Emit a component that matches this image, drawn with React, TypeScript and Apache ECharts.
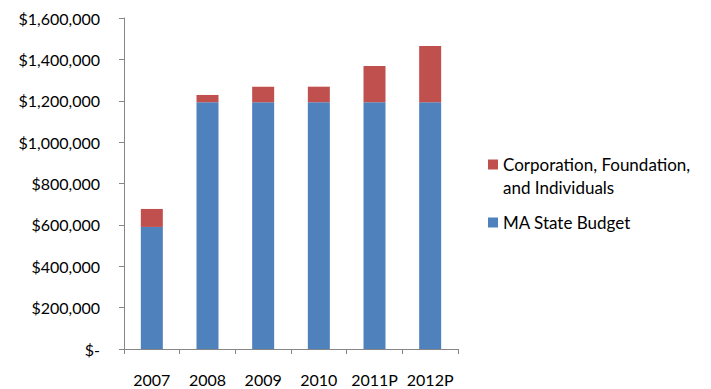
import React, { useEffect, useRef } from "react";
import * as echarts from "echarts";

const categories = ["2007", "2008", "2009", "2010", "2011P", "2012P"];
const stateBudget = [590000, 1193000, 1193000, 1193000, 1193000, 1193000];
const corporate = [87000, 35000, 75000, 75000, 175000, 272000];
const seriesNames = ["MA State Budget", "Corporation, Foundation, and Individuals"];

const FONT = "Lato";

function fmt(v: number): string {
  if (v === 0) return "$-";
  return "$" + v.toLocaleString("en-US");
}

export default function App() {
  const ref = useRef<HTMLDivElement>(null);
  useEffect(() => {
    if (!ref.current) return;
    const chart = echarts.init(ref.current, null, { renderer: "svg" });
    chart.setOption({
      animation: false,
      backgroundColor: "#ffffff",
      textStyle: { fontFamily: FONT },
      grid: { left: 124, right: 253, top: 18, bottom: 40, containLabel: false },
      legend: {
        orient: "vertical",
        left: 488,
        top: 130,
        padding: 0,
        itemWidth: 10,
        itemHeight: 10,
        itemGap: 12,
        icon: "rect",
        data: [seriesNames[1], seriesNames[0]],
        textStyle: { fontFamily: FONT, fontSize: 17, color: "#000", lineHeight: 23 },
        formatter: (name: string) =>
          name === seriesNames[1] ? "\nCorporation, Foundation,\nand Individuals" : name,
      },
      xAxis: {
        type: "category",
        data: categories,
        axisLine: { lineStyle: { color: "#868686", width: 1 } },
        axisTick: { show: true, length: 5, alignWithLabel: false, lineStyle: { color: "#868686" } },
        axisLabel: { interval: 0, hideOverlap: false, fontFamily: FONT, fontSize: 16, color: "#000", margin: 22 },
      },
      yAxis: {
        type: "value",
        min: 0,
        max: 1600000,
        interval: 200000,
        splitLine: { show: false },
        axisLine: { show: true, lineStyle: { color: "#868686", width: 1 } },
        axisTick: { show: true, length: 5, lineStyle: { color: "#868686" } },
        axisLabel: { fontFamily: FONT, fontSize: 16, color: "#000", margin: 24, formatter: fmt },
      },
      series: [
        {
          name: seriesNames[0],
          type: "bar",
          stack: "total",
          data: stateBudget,
          barWidth: 22,
          itemStyle: { color: "#4F81BD" },
        },
        {
          name: seriesNames[1],
          type: "bar",
          stack: "total",
          data: corporate,
          barWidth: 22,
          itemStyle: { color: "#C0504D" },
        },
      ],
    });
    return () => chart.dispose();
  }, []);
  return <div ref={ref} style={{ width: 711, height: 389, position: "absolute", left: 0, top: 0 }} />;
}
